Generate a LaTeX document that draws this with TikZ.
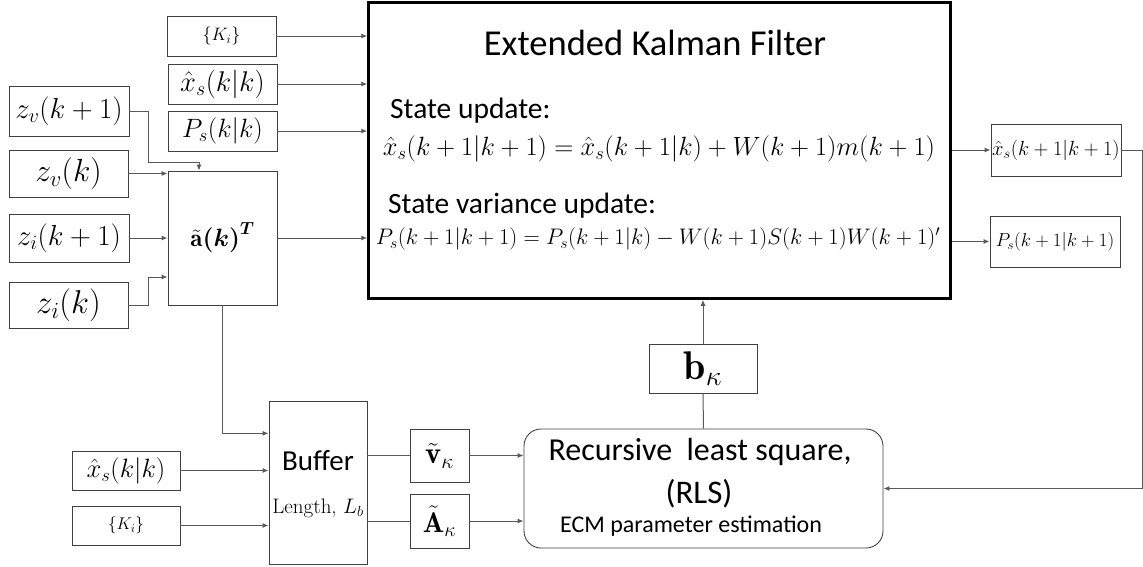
\RequirePackage{fix-cm}
\documentclass[tikz,border=0pt]{standalone}
\usepackage{fontspec}
\usepackage{amsmath,bm}
\newfontfamily\calibri{Carlito}
\usetikzlibrary{arrows.meta,positioning,calc}

\newcommand{\fsz}[1]{\fontsize{#1}{1.2\dimexpr#1pt\relax}\selectfont}

\begin{document}
\begin{tikzpicture}[x=1pt,y=-1pt,
	box/.style={draw=black!75,line width=0.9pt,inner sep=0pt},
	conn/.style={draw=black!65,line width=1pt},
	arr/.style={conn,-{Latex[length=6pt,width=5pt]}}]
	\useasboundingbox (0,0) rectangle (1143,566);

	% Ingressi in alto
	\node[box,minimum width=109pt,minimum height=40pt,font=\fsz{18}] (kin1) at (221.5,36) {$\{K_i\}$};
	\node[box,minimum width=109pt,minimum height=40pt,font=\fsz{28.5}] (xin1) at (222.5,84) {$\hat{x}_s(k|k)$};
	\node[box,minimum width=109pt,minimum height=40pt,font=\fsz{26.5}] (pin) at (222.5,131) {$P_s(k|k)$};

	% Misure
	\node[box,minimum width=120pt,minimum height=50pt,font=\fsz{29}] (zv1) at (69,111) {$z_v(k+1)$};
	\node[box,minimum width=119pt,minimum height=47pt,font=\fsz{32}] (zv0) at (68.5,173.5) {$z_v(k)$};
	\node[box,minimum width=120pt,minimum height=48pt,font=\fsz{29}] (zi1) at (69,238) {$z_i(k+1)$};
	\node[box,minimum width=119pt,minimum height=46pt,font=\fsz{33}] (zi0) at (68.5,305) {$z_i(k)$};
	\node[box,minimum width=109pt,minimum height=134pt,font=\fsz{25}] (abox) at (222.5,238) {$\tilde{\mathbf{a}}\bm{(k)^{T}}$};

	% Extended Kalman Filter
	\node[box,draw=black,line width=2.5pt,minimum width=582pt,minimum height=296pt] (ekf) at (659.5,150.5) {};
	\node[anchor=base,font=\calibri\fsz{36.5}] (ekft) at (655,55) {Extended Kalman Filter};
	\node[anchor=base west,inner sep=0pt,font=\calibri\fsz{29.5}] (su) at (390,118) {State update:};
	\node[inner sep=0pt,font=\fsz{26.4}] (eq1) at (659,149) {$\hat{x}_s(k+1|k+1)=\hat{x}_s(k+1|k)+W(k+1)m(k+1)$};
	\node[anchor=base west,inner sep=0pt,font=\calibri\fsz{29.5}] (svu) at (388,213) {State variance update:};
	\node[inner sep=0pt,font=\fsz{22.5}] (eq2) at (658,239) {$P_s(k+1|k+1)=P_s(k+1|k)-W(k+1)S(k+1)W(k+1)'$};

	% Uscite
	\node[box,minimum width=130pt,minimum height=52pt,font=\fsz{20.5}] (xout) at (1056,150) {$\hat{x}_s(k+1|k+1)$};
	\node[box,minimum width=130pt,minimum height=51pt,font=\fsz{18.8}] (pout) at (1055,241.5) {$P_s(k+1|k+1)$};

	% Buffer e RLS
	\node[box,minimum width=98pt,minimum height=163pt] (buf) at (318,482.5) {};
	\node[anchor=base,font=\calibri\fsz{29}] (buft) at (318,470) {Buffer};
	\node[anchor=base,font=\fsz{21}] (bufl) at (318,513) {Length, $L_b$};
	\node[box,minimum width=108pt,minimum height=39pt,font=\fsz{26.5}] (xin2) at (126,470.5) {$\hat{x}_s(k|k)$};
	\node[box,minimum width=108pt,minimum height=39pt,font=\fsz{17}] (kin2) at (126,525.5) {$\{K_i\}$};
	\node[box,minimum width=59pt,minimum height=53pt,font=\fsz{30.5}] (vk) at (439.5,455.5) {$\tilde{\mathbf{v}}_{\kappa}$};
	\node[box,minimum width=59pt,minimum height=54pt,font=\fsz{28.5}] (ak) at (439.5,521) {$\tilde{\mathbf{A}}_{\kappa}$};
	\node[box,rounded corners=17pt,minimum width=359pt,minimum height=119pt] (rls) at (703.5,488.5) {};
	\node[anchor=base,font=\calibri\fsz{32}] (rlst) at (700,460) {Recursive~ least square,};
	\node[anchor=base,font=\calibri\fsz{33}] (rlsa) at (699,503) {(RLS)};
	\node[anchor=base,font=\calibri\fsz{24}] (rlse) at (691,532) {ECM parameter estimation};
	\node[box,minimum width=108pt,minimum height=49pt,font=\fsz{40}] (bk) at (703,368.5) {$\mathbf{b}_{\kappa}$};

	% Collegamenti
	\draw[arr] (kin1.east) -- (kin1.east -| ekf.west);
	\draw[arr] (xin1.east) -- (xin1.east -| ekf.west);
	\draw[arr] (pin.east) -- (pin.east -| ekf.west);
	\coordinate (j1) at (148,162);
	\coordinate (j2) at (148,277);
	\draw[arr] (zv1.east) -| (j1) -| ([xshift=-23.5pt]abox.north);
	\draw[arr] (zv0.east) -- (zv0.east -| abox.west);
	\draw[arr] (zi1.east) -- (zi1.east -| abox.west);
	\draw[arr] (zi0.east) -| (j2) -- (j2 -| abox.west);
	\draw[arr] (abox.east) -- (abox.east -| ekf.west);
	\draw[arr] (abox.south) |- ($(buf.north west)!0.2!(buf.south west)$);
	\draw[arr] (xin2.east) -- (xin2.east -| buf.west);
	\draw[arr] (kin2.east) -- (kin2.east -| buf.west);
	\draw[conn] (vk.west -| buf.east) -- (vk.west);
	\draw[conn] (ak.west -| buf.east) -- (ak.west);
	\draw[arr] (vk.east) -- (vk.east -| rls.west);
	\draw[arr] (ak.east) -- (ak.east -| rls.west);
	\draw[conn] (rls.north) -- (bk.south);
	\draw[arr] (bk.north) -- (bk.north |- ekf.south);
	\draw[arr] (xout.west -| ekf.east) -- (xout.west);
	\draw[arr] (pout.west -| ekf.east) -- (pout.west);
	\draw[arr] (xout.east) -- ++(21,0) |- (rls.east);
\end{tikzpicture}
\end{document}
